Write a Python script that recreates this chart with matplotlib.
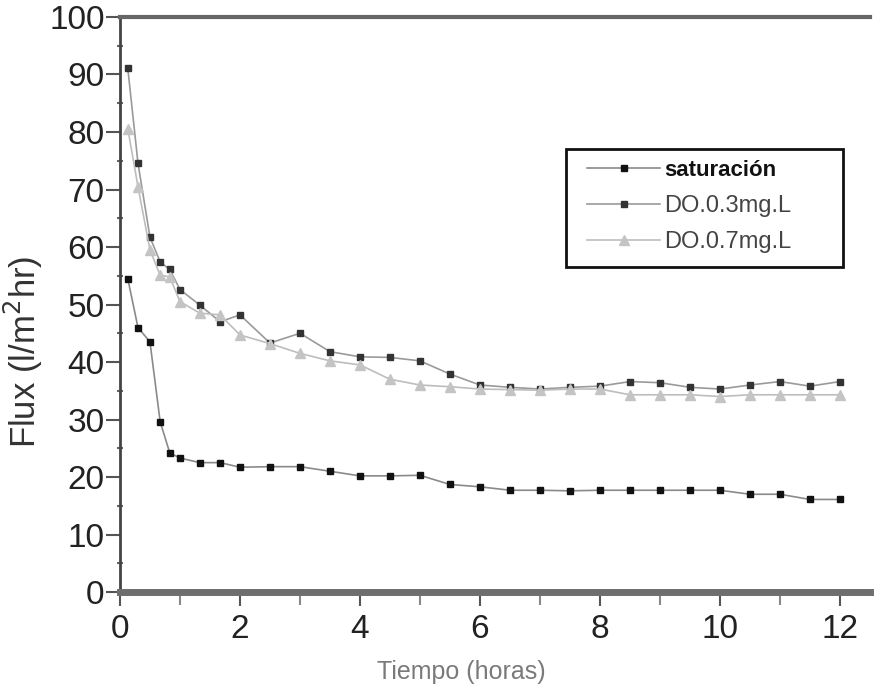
import matplotlib.pyplot as plt
from matplotlib.patches import Rectangle
from matplotlib.ticker import MultipleLocator

plt.rcParams["font.family"] = ["Liberation Sans", "DejaVu Sans"]

# time (hours)
tiempo = [0.13, 0.3, 0.5, 0.67, 0.83, 1.0, 1.33, 1.67, 2.0, 2.5, 3.0, 3.5, 4.0, 4.5,
          5.0, 5.5, 6.0, 6.5, 7.0, 7.5, 8.0, 8.5, 9.0, 9.5, 10.0, 10.5, 11.0, 11.5, 12.0]

saturacion = [54.5, 46.0, 43.5, 29.6, 24.2, 23.3, 22.5, 22.5, 21.7, 21.8, 21.8, 21.0, 20.2, 20.2,
              20.3, 18.7, 18.3, 17.7, 17.7, 17.6, 17.7, 17.7, 17.7, 17.7, 17.7, 17.0, 17.0, 16.1, 16.1]

do_03 = [91.1, 74.6, 61.7, 57.4, 56.1, 52.6, 49.9, 47.0, 48.2, 43.3, 45.0, 41.8, 40.9, 40.8,
         40.2, 37.9, 36.0, 35.6, 35.3, 35.6, 35.8, 36.6, 36.4, 35.6, 35.3, 36.0, 36.6, 35.8, 36.6]

do_07 = [80.6, 70.5, 59.5, 55.1, 54.8, 50.5, 48.5, 48.2, 44.7, 43.2, 41.5, 40.2, 39.5, 37.0,
         36.0, 35.7, 35.3, 35.2, 35.1, 35.3, 35.3, 34.3, 34.3, 34.3, 34.0, 34.3, 34.3, 34.3, 34.3]

fig = plt.figure(figsize=(8.9, 6.88), dpi=100)
ax = fig.add_axes([0.1348, 0.1395, 0.8427, 0.8358])

ax.plot(tiempo, saturacion, color="#8a8a8a", lw=1.2, marker="s", ms=4.5,
        mfc="#111111", mec="#111111", label="saturación")
ax.plot(tiempo, do_03, color="#9a9a9a", lw=1.2, marker="s", ms=4,
        mfc="#333333", mec="#333333", label="DO.0.3mg.L")
ax.plot(tiempo, do_07, color="#bdbdbd", lw=1.2, marker="^", ms=7,
        mfc="#c4c4c4", mec="#c4c4c4", label="DO.0.7mg.L")

ax.set_xlim(0, 12.5)
ax.set_ylim(0, 100)
ax.xaxis.set_major_locator(MultipleLocator(2))
ax.xaxis.set_minor_locator(MultipleLocator(1))
ax.yaxis.set_major_locator(MultipleLocator(10))
ax.yaxis.set_minor_locator(MultipleLocator(5))
ax.set_xticks([0, 2, 4, 6, 8, 10, 12])

ax.spines["right"].set_visible(False)
ax.spines["left"].set_color("#444444")
ax.spines["left"].set_linewidth(2)
ax.spines["top"].set_color("#666666")
ax.spines["top"].set_linewidth(3)
ax.spines["bottom"].set_color("#6e6e6e")
ax.spines["bottom"].set_linewidth(5)

ax.tick_params(axis="both", which="major", direction="out", length=10, width=1.5,
               color="#555555", labelsize=24, labelcolor="#222222")
ax.tick_params(axis="x", which="minor", direction="out", length=9, width=1.5,
               color="#888888")
ax.tick_params(axis="y", which="minor", direction="inout", length=5, width=1.5,
               color="#666666")
ax.tick_params(axis="x", which="major", pad=6)
ax.tick_params(axis="y", which="major", pad=1)

ax.set_ylabel("Flux (l/m$^2$hr)", fontsize=25, color="#333333")
ax.yaxis.set_label_coords(-0.10, 0.417)
ax.set_xlabel("Tiempo (horas)", fontsize=18, color="#7a7a7a", va="top")
ax.xaxis.set_label_coords(0.455, -0.118)

# legend box drawn separately so its size follows the reference
box = Rectangle((0.5947, 0.5652), 0.3693, 0.2052, transform=ax.transAxes,
                facecolor="white", edgecolor="#111111", lw=2, zorder=4)
ax.add_patch(box)
leg = ax.legend(loc="upper left", bbox_to_anchor=(0.6227, 0.752), borderaxespad=0,
                fontsize=17, frameon=False, handlelength=3.1, handletextpad=0.15,
                labelspacing=0.6, borderpad=0)
leg.set_zorder(5)
texts = leg.get_texts()
texts[0].set_color("#111111")
texts[0].set_fontweight("bold")
texts[0].set_fontsize(16)
for t in texts[1:]:
    t.set_color("#444444")

fig.savefig("out.png", dpi=100)
